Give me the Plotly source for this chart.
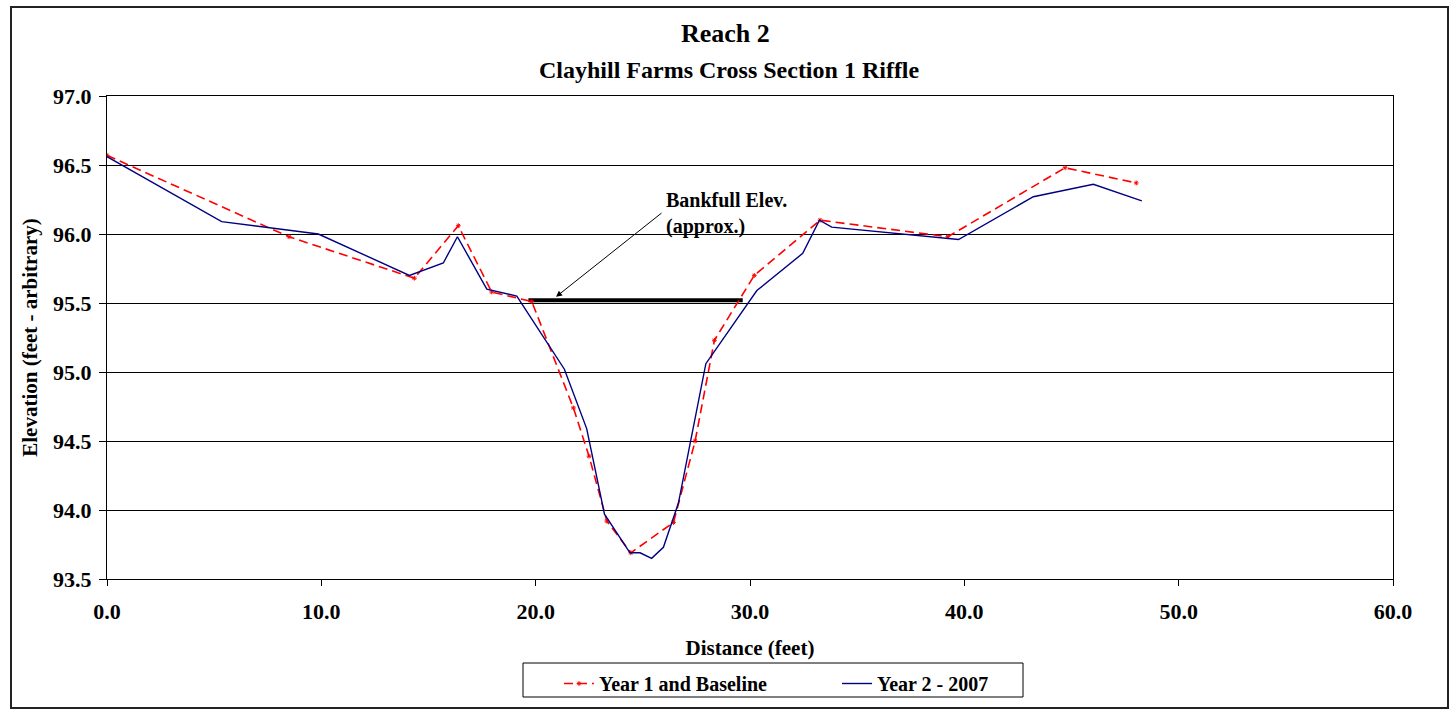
import plotly.graph_objects as go

# Survey data: distance across the section (ft) and bed elevation (ft)
year1_dist = [0.0, 8.49, 14.34, 16.39, 17.95, 19.82, 21.76, 22.49, 23.32, 24.44,
              26.43, 27.44, 28.34, 30.20, 33.27, 39.23, 44.70, 48.02]
year1_elev = [96.57, 95.98, 95.68, 96.06, 95.58, 95.51, 94.74, 94.39, 93.92, 93.69,
              93.91, 94.50, 95.23, 95.70, 96.10, 95.98, 96.48, 96.37]

year2_dist = [0.0, 5.35, 9.86, 14.11, 15.69, 16.35, 17.72, 19.12, 21.34, 22.38,
              23.21, 24.40, 24.87, 25.41, 25.96, 26.66, 27.94, 30.32, 32.46, 33.24,
              33.81, 39.73, 43.22, 46.02, 48.28]
year2_elev = [96.56, 96.09, 96.00, 95.70, 95.79, 95.98, 95.60, 95.55, 95.02, 94.59,
              93.97, 93.69, 93.69, 93.65, 93.73, 94.05, 95.06, 95.59, 95.86, 96.10,
              96.05, 95.96, 96.27, 96.36, 96.24]

# Approximate bankfull elevation line
bankfull_dist = [19.66, 29.66]
bankfull_elev = [95.52, 95.52]

x_ticks = [0, 10, 20, 30, 40, 50, 60]
y_ticks = [93.5, 94.0, 94.5, 95.0, 95.5, 96.0, 96.5, 97.0]

FONT = "Liberation Serif"

fig = go.Figure()

fig.add_trace(go.Scatter(
    x=bankfull_dist, y=bankfull_elev, mode="lines",
    line=dict(color="black", width=4), showlegend=False, hoverinfo="skip"))

fig.add_trace(go.Scatter(
    x=year1_dist, y=year1_elev, mode="lines+markers", name="Year 1 and Baseline",
    line=dict(color="#FF0000", width=1.6, dash="9px,5px"),
    marker=dict(symbol="asterisk-open", size=4, color="#FF0000",
                line=dict(color="#FF0000", width=1))))

fig.add_trace(go.Scatter(
    x=year2_dist, y=year2_elev, mode="lines", name="Year 2 - 2007",
    line=dict(color="#000080", width=1.4)))

# Pixel geometry of the plot area, used for paper-coordinate placement
L, R, T, B, W, H = 107, 60, 96, 130, 1453, 709
pw, ph = W - L - R, H - T - B


def px(xp):
    return (xp - L) / pw


def py(yp):
    return 1 - (yp - T) / ph


fig.update_layout(
    width=W, height=H,
    margin=dict(l=L, r=R, t=T, b=B, autoexpand=False),
    paper_bgcolor="white", plot_bgcolor="white",
    font=dict(family=FONT, color="black", size=20),
    showlegend=True,
    legend=dict(orientation="h", x=px(559), xanchor="left",
                y=py(664), yanchor="top", borderwidth=0,
                bgcolor="rgba(0,0,0,0)",
                font=dict(family=FONT, size=20, color="black", weight="bold"),
                entrywidth=233, entrywidthmode="pixels"),
    xaxis=dict(range=[0, 60], tickvals=x_ticks, ticktext=[f"{v:.1f}" for v in x_ticks],
               showgrid=False, zeroline=False, showline=True, linecolor="black",
               linewidth=1, mirror=True, ticks="outside", ticklen=6, tickcolor="black",
               ticklabelstandoff=7,
               tickfont=dict(family=FONT, size=22, weight="bold"),
               title=dict(text="<b>Distance (feet)</b>", font=dict(family=FONT, size=21),
                          standoff=16)),
    yaxis=dict(range=[93.5, 97.0], tickvals=y_ticks, ticktext=[f"{v:.1f}" for v in y_ticks],
               showgrid=True, gridcolor="black", gridwidth=1, zeroline=False,
               showline=True, linecolor="black", linewidth=1, mirror=True,
               ticks="outside", ticklen=7, tickcolor="black",
               ticklabelstandoff=3,
               tickfont=dict(family=FONT, size=22, weight="bold"),
               title=dict(text="<b>Elevation (feet - arbitrary)</b>",
                          font=dict(family=FONT, size=21), standoff=9)),
    shapes=[
        # outer chart frame
        dict(type="rect", xref="paper", yref="paper",
             x0=px(11), x1=px(1448), y0=py(708), y1=py(7),
             line=dict(color="#222222", width=2), layer="below"),
        # legend frame
        dict(type="rect", xref="paper", yref="paper",
             x0=px(523), x1=px(1023), y0=py(697), y1=py(663),
             line=dict(color="black", width=1)),
    ],
    annotations=[
        dict(text="<b>Reach 2</b>", xref="paper", yref="paper", x=px(725), y=py(33),
             xanchor="center", yanchor="middle", showarrow=False,
             font=dict(family=FONT, size=26)),
        dict(text="<b>Clayhill Farms Cross Section 1 Riffle</b>", xref="paper",
             yref="paper", x=px(729), y=py(70), xanchor="center", yanchor="middle",
             showarrow=False, font=dict(family=FONT, size=24)),
        # arrow to the bankfull line
        dict(text="", x=20.95, y=95.545, xref="x", yref="y",
             ax=25.94, ay=96.16, axref="x", ayref="y",
             showarrow=True, arrowhead=2, arrowsize=1.2, arrowwidth=1,
             arrowcolor="black"),
        dict(text="<b>Bankfull Elev.<br>(approx.)</b>", x=25.98, y=96.15,
             xref="x", yref="y", xanchor="left", yanchor="middle", align="left",
             showarrow=False, font=dict(family=FONT, size=20)),
    ],
)

fig.write_html("out.html")
